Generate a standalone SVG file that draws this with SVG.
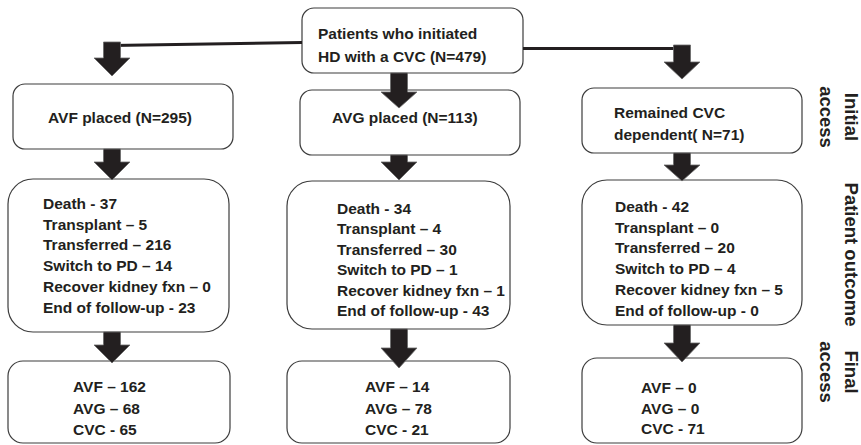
<svg xmlns="http://www.w3.org/2000/svg" width="861" height="445" viewBox="0 0 861 445">
<style>
.box{fill:#fff;stroke:#3c3c3c;stroke-width:1.2}
.t{font-family:"Liberation Sans",Arial,sans-serif;font-weight:bold;font-size:15.5px;fill:#231f20}
.side{font-family:"Liberation Sans",Arial,sans-serif;font-weight:bold;font-size:18.5px;fill:#231f20;text-anchor:middle}
.arr{fill:#231f20;stroke:#6a6a6a;stroke-width:0.8}
.line{stroke:#231f20;stroke-width:3;fill:none}
</style>
<g id="n-top"><rect class="box" x="302" y="8" width="221" height="65" rx="12"/>
<text class="t" x="318" y="39">Patients who initiated</text>
<text class="t" x="318" y="62">HD with a CVC (N=479)</text></g>
<g id="n-avf"><rect class="box" x="13" y="84" width="220" height="65" rx="12"/>
<text class="t" x="48" y="123">AVF placed (N=295)</text></g>
<g id="n-avg"><rect class="box" x="300" y="90" width="220" height="65" rx="12"/>
<text class="t" x="332" y="123">AVG placed (N=113)</text></g>
<g id="n-cvc"><rect class="box" x="582" y="88" width="220" height="65" rx="12"/>
<text class="t" x="614" y="118">Remained CVC</text>
<text class="t" x="614" y="140">dependent( N=71)</text></g>
<g id="n-out1"><rect class="box" x="8" y="179" width="221" height="153" rx="25"/>
<text class="t" x="43" y="209">Death - 37</text>
<text class="t" x="43" y="229.7">Transplant – 5</text>
<text class="t" x="43" y="250.4">Transferred – 216</text>
<text class="t" x="43" y="271.1">Switch to PD – 14</text>
<text class="t" x="43" y="291.8">Recover kidney fxn – 0</text>
<text class="t" x="43" y="312.5">End of follow-up - 23</text></g>
<g id="n-out2"><rect class="box" x="287" y="181" width="223" height="148" rx="25"/>
<text class="t" x="337" y="213.5">Death - 34</text>
<text class="t" x="337" y="234">Transplant – 4</text>
<text class="t" x="337" y="254.5">Transferred – 30</text>
<text class="t" x="337" y="275">Switch to PD – 1</text>
<text class="t" x="337" y="295.5">Recover kidney fxn – 1</text>
<text class="t" x="337" y="316">End of follow-up - 43</text></g>
<g id="n-out3"><rect class="box" x="582" y="180" width="220" height="145" rx="25"/>
<text class="t" x="615" y="212">Death - 42</text>
<text class="t" x="615" y="232.7">Transplant – 0</text>
<text class="t" x="615" y="253.4">Transferred – 20</text>
<text class="t" x="615" y="274.1">Switch to PD – 4</text>
<text class="t" x="615" y="294.8">Recover kidney fxn – 5</text>
<text class="t" x="615" y="315.5">End of follow-up - 0</text></g>
<g id="n-fin1"><rect class="box" x="8" y="361" width="222" height="82" rx="15"/>
<text class="t" x="73" y="392">AVF – 162</text>
<text class="t" x="73" y="413.5">AVG – 68</text>
<text class="t" x="73" y="435">CVC - 65</text></g>
<g id="n-fin2"><rect class="box" x="287" y="361" width="223" height="82" rx="15"/>
<text class="t" x="365" y="392">AVF – 14</text>
<text class="t" x="365" y="413.5">AVG – 78</text>
<text class="t" x="365" y="435">CVC - 21</text></g>
<g id="n-fin3"><rect class="box" x="582" y="358" width="220" height="85" rx="15"/>
<text class="t" x="641" y="393">AVF – 0</text>
<text class="t" x="641" y="413.5">AVG – 0</text>
<text class="t" x="641" y="434">CVC - 71</text></g>
<g id="labels">
<text class="side" transform="translate(845,117) rotate(90)">Initial</text>
<text class="side" transform="translate(820,117) rotate(90)">access</text>
<text class="side" transform="translate(845,254.5) rotate(90)">Patient outcome</text>
<text class="side" transform="translate(845,372) rotate(90)">Final</text>
<text class="side" transform="translate(820,372) rotate(90)">access</text>
</g>
<g id="connectors">
<path class="line" d="M302,42.5 L112,45.5"/>
<path class="line" d="M523,48.5 L682,48.5"/>
<path class="arr" d="M103.5,42 H120.5 V58 H130 L112,76 L94,58 H103.5 Z"/>
<path class="arr" d="M390.5,73 H407.5 V92 H417 L399,108 L381,92 H390.5 Z"/>
<path class="arr" d="M673.5,45 H690.5 V62 H700 L682,79 L664,62 H673.5 Z"/>
<path class="arr" d="M103.5,149 H120.5 V162 H130 L112,180 L94,162 H103.5 Z"/>
<path class="arr" d="M390.5,155 H407.5 V162 H417 L399,180 L381,162 H390.5 Z"/>
<path class="arr" d="M673.5,153 H690.5 V165 H700 L682,181 L664,165 H673.5 Z"/>
<path class="arr" d="M103.5,332 H120.5 V345 H130 L112,363 L94,345 H103.5 Z"/>
<path class="arr" d="M390.5,329 H407.5 V348 H417 L399,368 L381,348 H390.5 Z"/>
<path class="arr" d="M673.5,325 H690.5 V343 H700 L682,362 L664,343 H673.5 Z"/>
</g>
</svg>
